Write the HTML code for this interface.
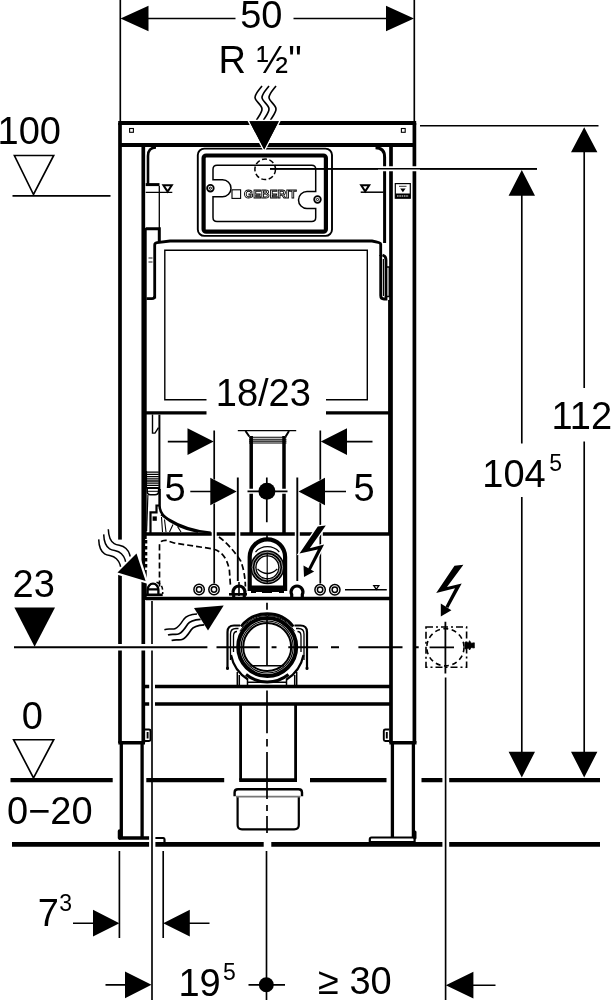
<!DOCTYPE html>
<html><head><meta charset="utf-8">
<style>
html,body{margin:0;padding:0;background:#fff;}
svg{display:block;filter:grayscale(1);}
text{font-family:"Liberation Sans",sans-serif;fill:#000;}
.t{font-size:38px;}
.s{font-size:23px;}
</style></head><body>
<svg width="611" height="1000" viewBox="0 0 611 1000">
<rect width="611" height="1000" fill="#fff"/>
<g fill="none" stroke="#000" stroke-width="1.65" id="dims">
<!-- top dim -->
<path d="M120.3 0V122M414.3 0V122"/>
<path d="M146 18.5H235.5M293.5 18.5H390"/>
<path d="M120.5 18.5L148.5 5.7V31.3Z M414 18.5L386 5.7V31.3Z" fill="#000" stroke="none"/>
<!-- heat waves -->
<path d="M262 86C258 91 255 94 255 97.5C255 101 262 105 262 109C262 113 258 117 256.5 120"/>
<path d="M262 86C258 91 255 94 255 97.5C255 101 262 105 262 109C262 113 258 117 256.5 120" transform="translate(7,0)"/><path d="M262 86C258 91 255 94 255 97.5C255 101 262 105 262 109C262 113 258 117 256.5 120" transform="translate(14,0)"/>
<!-- 100 -->
<path d="M14.4 155.5H53.7L33.5 194.5Z"/>
<path d="M12.5 195.8H110.5"/>
<!-- 23 -->
<path d="M14.4 607.6H55L34.6 646.8Z" fill="#000" stroke="none"/>
<!-- 0 -->
<path d="M13.6 739.7H53.7L33.5 778Z"/>
<!-- right dims -->
<path d="M420 125.7H598.5"/>
<path d="M270 168.8H537"/>
<path d="M584.2 150V388M584.2 441.5V755"/>
<path d="M521.8 194V443.5M521.8 497V755"/>
<path d="M584.2 127.2L571 152.3H597.4Z M521.8 170L508.6 195.7H535Z M584.2 777.5L571 751.7H597.4Z M521.8 777.5L508.6 751.7H535Z" fill="#000" stroke="none"/>
<!-- bottom dims -->
<path d="M119.4 851V938M163.2 851V938M152 601V1000M266.5 851V1000M445.6 677.5V1000"/>
<path d="M73 923.2H95M188 923.2H209.5M105.5 984.8H127M248.5 984.8H285M472 985.2H495.5"/>
<path d="M119.4 923.2L93 909.8V936.6Z M163.2 923.2L189.8 909.8V936.6Z M151.5 984.8L125 971.4V998.2Z M445.8 985.2L473.4 971.8V998.6Z" fill="#000" stroke="none"/>
<circle cx="266.3" cy="984.8" r="7.5" fill="#000" stroke="none"/>
</g>
<g id="txt">
<text class="t" x="240.2" y="28">50</text>
<text class="t" x="218.5" y="72.5">R ½"</text>
<text class="t" x="-2.5" y="144.3">100</text>
<text class="t" x="12.5" y="597">23</text>
<text class="t" x="21.7" y="728.5">0</text>
<text class="t" x="7" y="823.5">0−20</text>
<text class="t" x="551.5" y="428.8">112</text>
<text class="t" x="482.3" y="487">104</text>
<text class="s" x="549.2" y="470.5">5</text>
<text class="t" x="37.8" y="925.5">7</text>
<text class="s" x="59.3" y="910.8">3</text>
<text class="t" x="178.4" y="995.5">19</text>
<text class="s" x="223" y="980">5</text>
<text class="t" x="318" y="993.5">≥ 30</text>
<text class="t" x="215.8" y="405.7">18/23</text>
<text class="t" x="164.4" y="500.8">5</text>
<text class="t" x="353.4" y="500.9">5</text>
</g>
<g id="frame" fill="none" stroke="#000" stroke-width="3.3">
<!-- floor lines -->
<path d="M10.5 780.2H112.7M146.3 780.2H224.2M310 780.2H386.5M421.5 780.2H442.4M449.2 780.2H600" stroke-width="4.2"/>
<path d="M12 844.4H149.1M155.4 844.4H263.7M271.3 844.4H442.4M449.2 844.4H600" stroke-width="4.8"/>
<!-- posts -->
<path d="M120 123V743M143.3 145V743M391 145V743M414.4 123V743" stroke-width="3.7"/>
<path d="M145.6 228V539M145.6 570V600M389.2 300V534" stroke-width="2.2"/>
<path d="M146 540V570" stroke-width="2.6" stroke-dasharray="3.4 2.6"/>
<path d="M118.2 123H416.2" stroke-width="3.8"/>
<path d="M120 145H414.4" stroke-width="4"/>
<path d="M118.3 742.8H145M389.4 742.8H416.5" stroke-width="3.5"/>
<path d="M121.3 743V838M142.1 743V838M392.4 743V838M413.4 743V838" stroke-width="3.3"/>
<!-- holes -->
<rect x="129.6" y="128.5" width="3.8" height="3.8" stroke-width="1.1"/>
<rect x="401.4" y="128.5" width="3.8" height="3.8" stroke-width="1.1"/>
<!-- crossbars -->
<path d="M145 686.4H149.2M155 686.4H391M145 704H149.2M155 704H391" stroke-width="3.5"/>
<path d="M146 534H391M146 598.5H391" stroke-width="3.3"/>
<path d="M146 412.8H206.5M326 412.8H391" stroke-width="3.3"/>
</g>
<g id="top" fill="none" stroke="#000" stroke-width="2.5">
<!-- housing -->
<path d="M148 184V156Q148 147.5 156 147.5" stroke-width="2.6"/>
<path d="M384.6 243V157Q384.6 147.8 375.5 147.8" stroke-width="3"/>
<!-- left level marker -->
<path d="M145.7 184.6H159.5" stroke-width="3"/>
<path d="M145.7 192.3H172.3M159.3 186V228" stroke-width="1.3"/>
<path d="M163.4 185.2H171.8L167.6 191.6Z" stroke-width="2"/>
<path d="M145.7 228.8H159.3V241" stroke-width="3"/>
<!-- right level marker -->
<path d="M360.7 192.2H383.5" stroke-width="1.5"/>
<path d="M361.2 185.2H369.2L365.2 191.4Z" stroke-width="2"/>
<!-- sticker -->
<rect x="395.3" y="183.6" width="15" height="14.6" stroke-width="1.2"/>
<rect x="395.3" y="193.5" width="15" height="4.7" fill="#000" stroke="none"/>
<path d="M399 186.3H406.5" stroke-width="0.8"/>
<path d="M400.2 188.5H405.6L402.9 192.2Z" fill="#000" stroke="none"/>
<path d="M397 196H408.7" stroke="#fff" stroke-width="1" stroke-dasharray="1.6 0.7"/>
<!-- cover plate -->
<rect x="197.8" y="148.6" width="134.2" height="87.3" rx="6.5" stroke-width="1.9"/>
<rect x="203.6" y="155.5" width="122.3" height="76.2" rx="2.5" stroke-width="4.2"/>
<path d="M217 165.3H311.7Q315.7 165.3 315.7 169.3V191.5H307A8.5 8.5 0 0 0 307 208.5H315.7V217.6Q315.7 221.6 311.7 221.6H217Q213 221.6 213 217.6V196.8H222.5A8.5 8.5 0 0 0 222.5 179.8H213V169.3Q213 165.3 217 165.3Z" stroke-width="1.5"/>
<circle cx="210.4" cy="188.2" r="3.3" stroke-width="1.8"/><circle cx="210.4" cy="188.2" r="1.1" stroke-width="1"/>
<circle cx="317.5" cy="199.5" r="3.3" stroke-width="1.8"/><circle cx="317.5" cy="199.5" r="1.1" stroke-width="1"/>
<path d="M378 168.8H420" stroke="#fff" stroke-width="5"/>
<path d="M270 168.8H537" stroke-width="1.6"/>
<circle cx="265.2" cy="169.3" r="10.3" stroke-width="1.5" stroke-dasharray="5 2.5"/>
<rect x="232" y="189.8" width="8.6" height="8.6" stroke-width="1.1"/>
<text x="244" y="198.3" style="font-size:11.2px;font-weight:bold;fill:#fff;stroke:#000;stroke-width:0.85" textLength="52.6" lengthAdjust="spacingAndGlyphs">GEBERIT</text>
<path d="M249.4 121.3H278.8L264.2 149.6Z" fill="#000" stroke="#fff" stroke-width="3" paint-order="stroke"/>
<path d="M249.4 121.3H278.8L264.2 149.6Z" fill="#000" stroke="none"/>
</g>
<g id="cistern" fill="none" stroke="#000" stroke-width="2.8">
<path d="M154.7 298.6V245Q154.7 243 157 242.7L170 241H372Q380.7 242.5 380.7 244V256"/>
<path d="M146.5 298.6H152Q154.7 298.6 154.7 296" stroke-width="2.6"/>
<path d="M148.5 258H152.5M148.5 262H152.5" stroke-width="0.9"/>
<path d="M206.5 399.8H164.8V250.3H367.3V399.8H326" stroke-width="1.4"/>
<!-- right handle -->
<path d="M380.7 255V295.5Q380.7 299 384 299H386V260Q386 256 382.5 255" stroke-width="2.8"/>
<path d="M386.5 267H389.3V296.5H386.5" stroke-width="1.5"/>
<path d="M383.4 259V296" stroke-width="1.2"/>
</g>
<g id="mid" fill="none" stroke="#000" stroke-width="1.5">
<!-- flush pipe -->
<path d="M237.8 430.6H296.2" stroke-width="1.3"/>
<path d="M245.5 431L249.3 436.5M289 431L285.7 436.5" stroke-width="2"/>
<path d="M249 437.3H286.5M249 439.2H286.5M249 441.1H286.5M249 443H286.5" stroke-width="1.1"/>
<path d="M251.2 436V534M284 436V534" stroke-width="3.5"/>
<!-- 18/23 dims -->
<path d="M214.2 430.6V583M320.3 430.6V583" stroke="#fff" stroke-width="5"/>
<path d="M237.8 477.6V581M297.3 477.6V581" stroke="#fff" stroke-width="5"/>
<path d="M214.2 430.6V583.5M320.3 430.6V583.5" stroke-width="1.7"/>
<path d="M229 491.5L210.3 481.8V501.2Z M306 491.5L325 481.8V501.2Z" fill="#fff" stroke="#fff" stroke-width="8"/>
<path d="M237.8 477.6V581M297.3 477.6V581" stroke-width="1.9"/>
<path d="M167.8 441.6H190M346 441.6H372.5M190.3 491.5H212M324 491.5H346" stroke-width="1.6"/>
<path d="M213.7 441.6L187.5 428.2V455Z M320.8 441.6L347 428.2V455Z M236.7 491.5L210.3 477.8V505.2Z M298.5 491.5L325 477.8V505.2Z" fill="#000" stroke="none"/>
<!-- centre dot -->
<path d="M247 491.3H288" stroke="#fff" stroke-width="5"/>
<path d="M247.5 491.3H287.5M266.8 477.6V522.3" stroke-width="1.7"/>
<circle cx="266.9" cy="491.3" r="8.5" fill="#000" stroke="none"/>
<!-- bolt -->
<path d="M325.8 525.5L317.8 526.5L299.5 553.4L317.8 549.4L308.1 568.8L310.7 570.2L324.1 544.6L309.8 548.2Z" fill="#000" stroke="#fff" stroke-width="2.5" paint-order="stroke"/>
<path d="M303.5 565.4L314.2 571.5L304 577Z" fill="#000" stroke="none"/>
</g>
<g id="pipes" fill="none" stroke="#000" stroke-width="1.6">
<!-- dashed supply pipe -->
<path d="M159.5 586.5V546Q159.5 540 166 540.3L174 543L211 548.6Q226 551 229.4 570.4L230.5 586.5" stroke-dasharray="6 3" stroke-width="1.7"/>
<path d="M219 537Q231 546 240.8 561.2Q245 572 245.4 586.5" stroke-dasharray="6 3" stroke-width="1.7"/>
<!-- left connector -->
<path d="M147.6 594.5V589.8A5.4 6.2 0 0 1 158.4 589.8V594.5M147.6 589.3H158.4" stroke-width="2.3"/>
<path d="M146 594.8H162.7" stroke-width="2.6"/>
<path d="M156.5 582.3Q162.7 584 162.7 591.5V594" stroke-dasharray="4 2.2" stroke-width="1.5"/>
<!-- double circles -->
<g stroke-width="1.5"><circle cx="199.1" cy="589.5" r="5.2"/><circle cx="199.1" cy="589.5" r="2.7"/>
<circle cx="214" cy="589.5" r="5.2"/><circle cx="214" cy="589.5" r="2.7"/>
<circle cx="320.1" cy="589.8" r="5.2"/><circle cx="320.1" cy="589.8" r="2.7"/>
<circle cx="334.8" cy="589.8" r="5.2"/><circle cx="334.8" cy="589.8" r="2.7"/></g>
<!-- omega connectors -->
<path d="M233.7 597V594.5A5.9 5.9 0 1 1 244.3 594.5V597" stroke-width="3.2"/>
<path d="M239 582V596" stroke-width="1.6"/>
<path d="M229 594.3H247" stroke-width="2.6"/>
<path d="M291.7 597V594.5A5.9 5.9 0 1 1 302.3 594.5V597" stroke-width="3.2"/>
<!-- level marker right -->
<path d="M345 589.7H386.8" stroke-width="1.5"/>
<path d="M373.8 585.7H378.8L376.3 589.3Z" stroke-width="1.3"/>
<!-- elbow -->
<path d="M249.7 591V557A17.7 17.7 0 0 1 285.1 557V591" stroke-width="4.2"/>
<rect x="251" y="585.5" width="33" height="7.5" fill="#000" stroke="none"/>
<path d="M256 592.5H262M272 592.5H279" stroke="#fff" stroke-width="1"/>
<circle cx="267.4" cy="567.3" r="13.9" stroke-width="6.2"/>
<circle cx="267.4" cy="567.3" r="12.6" stroke="#fff" stroke-width="0.7"/>
<circle cx="267.4" cy="567.3" r="15.2" stroke="#fff" stroke-width="0.6"/>
<path d="M257.5 569Q267.4 578 277.3 569" stroke-width="1.3"/>
<path d="M255.5 552A16 16 0 0 1 279.3 552" stroke-width="1.2"/>
<path d="M267 534V541" stroke-width="1.6"/>
<path d="M267.2 553V583" stroke-width="1.2"/>
</g>
<g id="valve" fill="none" stroke="#000" stroke-width="1.3">
<path d="M152.5 414.6V433.1H155L158.5 427.7" stroke-width="1.4"/>
<path d="M159.4 414.6V490" stroke-width="2"/>
<path d="M146.5 472.2H158.8M146.5 474.4H158.8M146.5 476.6H158.8M146.5 478.8H158.8M146.5 481.0H158.8M146.5 483.2H158.8M146.5 485.4H158.8M146.5 487.6H158.8" stroke-width="1.3"/>
<path d="M146.3 471V488.5" stroke-width="1.6"/>
<path d="M147.2 488.3H158.6V491.5Q158.6 494.7 155 494.7H150.5Q147.2 494.7 147.2 491.5Z" stroke-width="1.5"/>
<path d="M147.5 491.3H158.3" stroke-width="1"/>
<path d="M147.9 495L146.6 531" stroke-width="1.2"/>
<path d="M159.6 489V505.8C159.8 512 163 516 168 519C180 526.5 194 531 210.7 532.8" stroke-width="2.5"/>
<path d="M161 514.5C172 524 184 529.5 198 532" stroke-width="1.8"/>
<path d="M150.5 533V512.4H156.5V505.5H159.5" stroke-width="2.2"/>
<rect x="152.6" y="516.4" width="4.2" height="4.4" fill="#000" stroke="none"/>
<path d="M161.5 517L162.5 532M164.5 519.5L166 532M173 524.5L169.5 532M177.5 526.5L181 532" stroke-width="1.1"/>
</g>
<g id="lower" fill="none" stroke="#000" stroke-width="2.5">
<!-- feet -->
<path d="M119 838H149.1" stroke-width="3.5"/>
<path d="M119.5 831V838" stroke-width="3.5" stroke-linecap="round"/>
<path d="M155.4 838H163.5Q164.5 838 164.5 839.5V843" stroke-width="2.2"/>
<path d="M371.5 837.5H413Q414.6 837.5 414.6 839.5V842H369.8V839.5Q369.8 837.5 371.5 837.5Z" stroke-width="2.2"/>
<path d="M415 832V838" stroke-width="3" stroke-linecap="round"/>
<!-- bolts -->
<path d="M145 729.5H149Q150.5 729.5 150.5 731V739.5Q150.5 741 149 741H145M147.6 732V738.5" stroke-width="1.9"/>
<path d="M389.4 729.5H385.3Q383.8 729.5 383.8 731V739.5Q383.8 741 385.3 741H389.4M386.8 732V738.5" stroke-width="1.9"/>
<!-- drain stub -->
<path d="M240.6 704V780.2M295.6 704V780.2" stroke-width="2.8"/>
<path d="M239.2 780.2H297" stroke-width="3.8"/>
<!-- cap -->
<path d="M237.6 796V825Q237.6 829.3 242 829.3H294.2Q298.8 829.3 298.8 825V796" stroke-width="2.2"/>
<path d="M234.6 796.3V792.5Q234.6 789.3 238 789.3H298.5Q302 789.3 302 792.5V796.3" stroke-width="2.4"/>
<path d="M236 796.7H300.5" stroke="#777" stroke-width="1.8"/>
<!-- centre line -->
<path d="M267 602.8V609.7M267 619.5V665.4M267 690.4V733.3M267 739V746.5M267 752V799M267 805V811M267 816V833" stroke-width="1.7"/>
</g>
<g id="drain" fill="none" stroke="#000" stroke-width="1.3">
<circle cx="267.2" cy="647" r="29" stroke-width="4"/>
<circle cx="267.2" cy="647" r="26" stroke-width="1.2"/>
<circle cx="267.2" cy="647" r="24" stroke-width="2"/>
<path d="M241.0 626.5A33.3 33.3 0 0 1 293.4 626.5" stroke-width="2.8"/>
<path d="M239.8 631.2A31.6 31.6 0 0 1 294.6 631.2" stroke-width="1"/>
<path d="M246 674.5A34 34 0 0 0 288.5 674.5" stroke-width="3"/>
<path d="M250.5 665.8H284" stroke-width="1.4"/>
<!-- clamp ears -->
<path d="M227.5 668V632Q227.5 625.5 234 625.5H240" stroke-width="2.2"/>
<path d="M230.5 660V634Q230.5 628.5 236 628.5H238.5" stroke-width="1.3"/>
<path d="M233.5 652V636Q233.5 631.5 237 631.5" stroke-width="1.3"/>
<path d="M307 668V632Q307 625.5 300.5 625.5H294.5" stroke-width="2.2"/>
<path d="M304 660V634Q304 628.5 298.5 628.5H296" stroke-width="1.3"/>
<path d="M301 652V636Q301 631.5 297.5 631.5" stroke-width="1.3"/>
<path d="M227.5 668V668.5" stroke-width="3" stroke-linecap="round"/>
<path d="M307 668V668.5" stroke-width="3" stroke-linecap="round"/>
<path d="M231 655A37.5 37.5 0 0 0 248 679.5" stroke-width="2.2"/>
<path d="M303.5 655A37.5 37.5 0 0 1 286.5 679.5" stroke-width="2.2"/>
<!-- feet of clamp -->
<path d="M237.3 672V685M239.3 675V685M247.5 679V685M296.7 672V685M294.7 675V685M286.5 679V685" stroke-width="1.5"/>
<path d="M247.5 682.3H286.5" stroke-width="1.5"/>
</g>
<g id="arrows" fill="none" stroke="#000" stroke-width="1.7">
<!-- level 23 line -->
<path d="M100 647.3H165" stroke="#fff" stroke-width="6.5"/>
<path d="M14 647.3H207.4M216.5 647.3H259.8M271.6 647.3H276.5M288.3 647.3H318M331 647.3H339M358.4 647.3H402.5M416 647.3H418.7" stroke-width="1.9"/>
<!-- upper left heat arrow -->
<path d="M120 539.6V575" stroke="#fff" stroke-width="6"/>


<g stroke="#fff" stroke-width="5"><path d="M108.3 529.2C108.5 535 110 541 114.2 543.6S122 544.5 126 548.5S129 553 130.2 556.5" transform="translate(0,0)"/><path d="M108.3 529.2C108.5 535 110 541 114.2 543.6S122 544.5 126 548.5S129 553 130.2 556.5" transform="translate(-4.6,5.2)"/><path d="M108.3 529.2C108.5 535 110 541 114.2 543.6S122 544.5 126 548.5S129 553 130.2 556.5" transform="translate(-9.6,10.2)"/></g>
<path d="M145.6 580.9L117.5 572.4L136.5 553.4Z" fill="#fff" stroke="#fff" stroke-width="4.5"/>
<g stroke-width="1.5"><path d="M108.3 529.2C108.5 535 110 541 114.2 543.6S122 544.5 126 548.5S129 553 130.2 556.5" transform="translate(0,0)"/><path d="M108.3 529.2C108.5 535 110 541 114.2 543.6S122 544.5 126 548.5S129 553 130.2 556.5" transform="translate(-4.6,5.2)"/><path d="M108.3 529.2C108.5 535 110 541 114.2 543.6S122 544.5 126 548.5S129 553 130.2 556.5" transform="translate(-9.6,10.2)"/></g>
<path d="M145.6 580.9L117.5 572.4L136.5 553.4Z" fill="#000" stroke="none"/>
<!-- lower heat arrow -->
<path stroke-width="1.5" d="M164.4 629.7C169 628 172 630 175.5 628.5S182 622 184 619S190 614.5 197 614"/>
<path d="M164.4 629.7C169 628 172 630 175.5 628.5S182 622 184 619S190 614.5 197 614" transform="translate(3.6,5.3)"/><path d="M164.4 629.7C169 628 172 630 175.5 628.5S182 622 184 619S190 614.5 197 614" transform="translate(7.2,10.8)"/>
<path d="M223.7 605.5L194 608.1L208 630.4Z" fill="#000" stroke="none"/>
<!-- e-box -->
<rect x="426" y="627" width="40.6" height="40.3" stroke-width="1.6" stroke-dasharray="7 3 2 3"/>
<circle cx="445.4" cy="647.3" r="18.6" stroke-width="1.6" stroke-dasharray="5 3.5"/>
<path d="M445.4 621.8V673.5M429.6 647.3H454" stroke-width="1.8"/>
<path d="M465 642L468.5 643L469.5 640.7L471.3 643.3L474.3 642.8V648L471.3 647.5L469.5 650L468.5 648L465 649Z" fill="#000" stroke-width="0.8"/>
<path d="M463.4 564.8L454.5 565.7L436.2 593L455 588.2L445.5 606.5L448.3 608L461.7 583.5L447 587Z" fill="#000" stroke="none"/>
<path d="M440.8 603.4L451.4 610.3L440.8 616.5Z" fill="#000" stroke="none"/>
</g>
</svg>
</body></html>
